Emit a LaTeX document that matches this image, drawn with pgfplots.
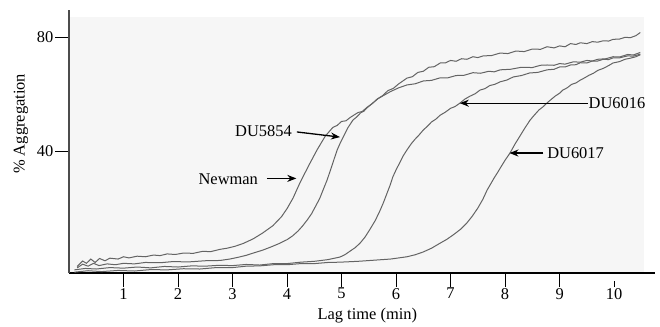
\documentclass[border=0pt]{standalone}
\usepackage{fontspec}
\setmainfont{Liberation Serif}
\usepackage{pgfplots}
\pgfplotsset{compat=1.18}
\usetikzlibrary{arrows.meta}
\definecolor{curve}{RGB}{100,100,100}
\definecolor{bgfill}{RGB}{246,246,246}
\begin{document}
\fontsize{16.5}{19}\selectfont
\begin{tikzpicture}[x=1bp,y=1bp]
\begin{axis}[
  at={(0,0)}, anchor=south west,
  width=586bp, height=263bp, scale only axis,
  xmin=0, xmax=10.75, ymin=-2.8, ymax=89.5,
  axis lines=left,
  x axis line style={-, line width=1.1bp, black},
  y axis line style={-, line width=1.6bp, black!70},
  xtick={1,2,3,4,5,6,7,8,9,10}, ytick={40,80},
  tick align=outside,
  major tick length=14bp,
  x tick style={black, line width=0.9bp, shorten >=8bp},
  y tick style={black, line width=0.9bp},
  /pgf/number format/assume math mode=true,
  tick label style={font=\fontsize{16.5}{19}\selectfont},
  xticklabel style={inner sep=1bp},
  yticklabel style={inner sep=1.5bp},
  xlabel={Lag time (min)},
  ylabel={\% Aggregation},
  xlabel style={at={(axis description cs:0.509,-0.16)}, anchor=center, font=\fontsize{16.5}{19}\selectfont},
  ylabel style={at={(axis description cs:-0.082,0.567)}, anchor=center, font=\fontsize{16.5}{19}\selectfont},
  clip=false,
]
\fill[bgfill] (axis cs:0.02,-2.6) rectangle (axis cs:10.55,87);

% Newman
\addplot[curve, line width=1bp] coordinates {
(0.15,-0.5) (0.25,1.4) (0.32,0.6) (0.4,2.1) (0.48,0.9) (0.56,2.3) (0.66,1.5) (0.75,2.4) (0.9,2.1) (1.0,2.9) (1.1,2.5) (1.25,3.1) (1.4,2.9) (1.55,3.5) (1.67,3.3) (1.8,3.9) (1.95,3.7) (2.1,4.2) (2.28,4.1) (2.45,4.8) (2.6,4.7) (2.77,5.5) (2.9,5.9) (3.05,6.6) (3.2,7.6) (3.38,9.2) (3.55,11.2) (3.74,13.8) (3.9,17.0) (4.0,19.8) (4.11,23.5) (4.24,29.0) (4.4,35.0) (4.55,40.4) (4.7,45.2) (4.84,48.3) (4.92,49.0) (5.0,50.4) (5.08,50.6) (5.16,51.8) (5.3,53.5) (5.38,53.9) (5.47,55.4) (5.56,56.6) (5.65,58.2) (5.75,59.4) (5.85,61.2) (5.95,62.0) (6.05,63.6) (6.2,65.6) (6.3,66.1) (6.4,67.6) (6.5,68.0) (6.6,69.4) (6.7,69.6) (6.81,70.9) (6.9,70.9) (7.0,71.8) (7.1,71.5) (7.2,72.4) (7.3,72.2) (7.41,73.1) (7.5,72.8) (7.6,73.4) (7.75,73.5) (7.91,74.4) (8.05,74.2) (8.2,75.1) (8.35,74.9) (8.5,75.8) (8.65,75.7) (8.77,76.6) (8.9,76.2) (9.0,76.9) (9.1,76.6) (9.2,77.7) (9.3,77.4) (9.38,78.0) (9.5,77.7) (9.6,78.4) (9.7,78.2) (9.8,78.7) (9.9,78.6) (9.98,79.2) (10.1,79.3) (10.2,79.9) (10.3,79.8) (10.4,80.5) (10.48,81.6)
};
% DU5854
\addplot[curve, line width=1bp] coordinates {
(0.15,-1.0) (0.25,0.3) (0.35,-0.4) (0.45,0.6) (0.55,-0.2) (0.7,0.4) (0.85,0.1) (1.0,0.6) (1.2,0.4) (1.4,0.9) (1.67,0.8) (1.9,1.2) (2.2,1.1) (2.5,1.5) (2.77,1.6) (2.95,2.1) (3.1,2.7) (3.25,3.4) (3.38,4.2) (3.55,5.2) (3.7,6.3) (3.85,7.5) (4.0,8.9) (4.1,10.2) (4.2,11.9) (4.28,13.6) (4.37,15.8) (4.45,18.0) (4.52,20.5) (4.6,23.4) (4.66,26.3) (4.73,29.6) (4.8,33.5) (4.86,37.0) (4.92,40.4) (4.98,43.0) (5.03,44.9) (5.12,48.3) (5.21,50.9) (5.28,52.0) (5.35,53.4) (5.41,54.0) (5.47,55.2) (5.57,56.8) (5.67,58.4) (5.78,59.6) (5.9,60.9) (6.05,62.2) (6.2,63.2) (6.35,63.6) (6.5,64.6) (6.65,64.8) (6.81,65.7) (6.95,65.7) (7.1,66.5) (7.25,66.6) (7.41,67.5) (7.55,67.3) (7.7,68.0) (7.8,67.8) (7.91,68.5) (8.1,68.7) (8.3,69.4) (8.5,69.3) (8.65,70.1) (8.77,70.2) (8.9,70.1) (9.0,70.7) (9.1,70.5) (9.25,71.3) (9.38,71.2) (9.5,71.8) (9.6,71.6) (9.7,72.2) (9.85,72.4) (9.98,73.1) (10.1,73.0) (10.25,73.9) (10.35,73.7) (10.48,74.6)
};
% DU6016
\addplot[curve, line width=1bp] coordinates {
(0.1,-1.7) (0.3,-1.2) (0.5,-1.4) (0.75,-0.9) (1.0,-1.1) (1.25,-0.7) (1.5,-1.0) (1.75,-0.5) (2.0,-0.7) (2.25,-0.3) (2.5,-0.4) (2.75,-0.1) (3.0,-0.2) (3.25,0.2) (3.5,0.0) (3.75,0.5) (4.0,0.5) (4.25,1.0) (4.5,1.3) (4.75,1.9) (4.97,2.8) (5.06,3.6) (5.15,4.8) (5.25,6.1) (5.34,7.7) (5.43,9.8) (5.52,12.5) (5.62,15.7) (5.71,19.3) (5.77,22.0) (5.83,25.0) (5.89,28.0) (5.94,30.9) (6.0,33.4) (6.07,36.0) (6.13,38.3) (6.2,40.4) (6.28,42.6) (6.35,44.2) (6.42,45.6) (6.5,47.4) (6.57,48.6) (6.65,50.2) (6.73,51.2) (6.81,52.6) (6.9,53.6) (7.0,55.0) (7.08,55.6) (7.17,56.8) (7.26,58.2) (7.35,59.2) (7.45,60.1) (7.54,61.4) (7.63,61.9) (7.72,63.0) (7.81,63.4) (7.91,64.3) (8.03,64.9) (8.15,66.0) (8.3,66.5) (8.45,67.4) (8.6,67.6) (8.77,68.5) (8.9,68.7) (9.0,69.5) (9.1,69.5) (9.2,70.2) (9.3,70.3) (9.38,71.0) (9.5,70.9) (9.6,71.6) (9.7,71.6) (9.8,72.2) (9.9,72.1) (9.98,72.7) (10.1,72.7) (10.25,73.4) (10.35,73.3) (10.48,74.0)
};
% DU6017
\addplot[curve, line width=1bp] coordinates {
(0.1,-2.5) (0.35,-2.0) (0.6,-2.3) (0.9,-1.9) (1.2,-2.1) (1.5,-1.6) (1.8,-1.7) (2.1,-1.3) (2.4,-1.4) (2.7,-0.9) (3.0,-0.9) (3.25,-0.4) (3.5,-0.3) (3.75,0.1) (4.0,0.1) (4.25,0.5) (4.5,0.5) (4.75,0.9) (4.97,1.0) (5.3,1.3) (5.6,1.7) (5.9,2.1) (6.2,2.9) (6.35,3.6) (6.5,4.6) (6.65,5.9) (6.81,7.7) (6.93,9.0) (7.05,10.6) (7.18,12.5) (7.3,14.8) (7.4,17.2) (7.5,20.0) (7.59,23.0) (7.67,26.3) (7.74,28.6) (7.8,30.6) (7.86,32.4) (7.91,34.0) (8.0,36.8) (8.09,39.3) (8.18,42.4) (8.28,45.5) (8.37,48.3) (8.46,50.9) (8.54,52.7) (8.62,54.4) (8.7,55.6) (8.77,56.9) (8.85,58.2) (8.92,59.3) (9.0,60.3) (9.06,61.4) (9.14,62.2) (9.22,63.4) (9.3,63.9) (9.38,64.9) (9.46,65.7) (9.54,66.6) (9.62,67.3) (9.7,68.3) (9.8,69.0) (9.9,70.0) (9.98,70.9) (10.1,71.4) (10.2,72.2) (10.3,72.6) (10.4,73.1) (10.48,73.8)
};

% labels and arrows
\node[anchor=east, inner sep=0pt] at (axis cs:3.47,30.2) {Newman};
\draw[-{Stealth[length=9bp,width=7bp]}, line width=1.3bp] (axis cs:3.63,30.4) -- (axis cs:4.17,30.4);
\node[anchor=east, inner sep=0pt] at (axis cs:4.09,46.9) {DU5854};
\draw[-{Stealth[length=9bp,width=7bp]}, line width=1.3bp] (axis cs:4.18,46.7) -- (axis cs:4.97,44.9);
\node[anchor=west, inner sep=0pt] at (axis cs:9.53,56.8) {DU6016};
\draw[-{Stealth[length=9bp,width=7bp]}, line width=1.3bp] (axis cs:9.52,56.8) -- (axis cs:7.17,56.8);
\node[anchor=west, inner sep=0pt] at (axis cs:8.77,39.3) {DU6017};
\draw[-{Stealth[length=9bp,width=7bp]}, line width=1.3bp] (axis cs:8.70,39.3) -- (axis cs:8.08,39.3);
\end{axis}
\pgfresetboundingbox
\useasboundingbox (-69,-53) rectangle (591,273);
\end{tikzpicture}
\end{document}
